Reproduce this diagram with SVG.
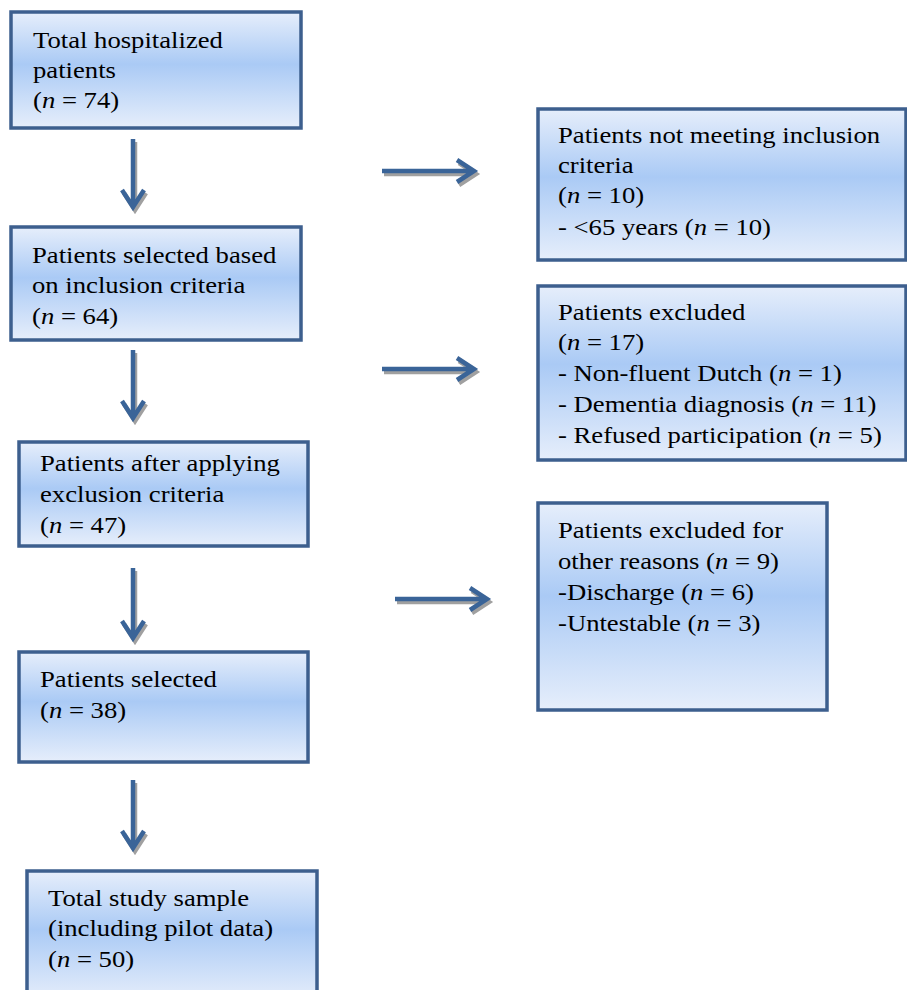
<svg xmlns="http://www.w3.org/2000/svg" width="907" height="990" viewBox="0 0 907 990">
<defs>
<linearGradient id="g" x1="0" y1="0" x2="0" y2="1">
<stop offset="0" stop-color="#e6eefb"/>
<stop offset="0.45" stop-color="#aacaf5"/>
<stop offset="1" stop-color="#e6eefb"/>
</linearGradient>
<style>
.box{fill:url(#g);stroke:#3d5f8e;stroke-width:3.5}
.t{font-family:'Liberation Serif','Times New Roman',Times,serif;font-size:23px;fill:#000}
.i{font-style:italic}
.sh{stroke:#a0a0a0;stroke-width:4.5;fill:none}
.ar{stroke:#3a6498;stroke-width:4.5;fill:none}
</style>
</defs>
<g id="connectors">
<g transform="translate(2,3)" class="sh">
<path d="M133 139V207M122 190L133 207L144 190"/>
<path d="M133 350V418M122 401L133 418L144 401"/>
<path d="M133 568V638M122 621L133 638L144 621"/>
<path d="M133 780V848M122 831L133 848L144 831"/>
<path d="M382 171H474M457 160L474 171L457 182"/>
<path d="M382 369H474M457 358L474 369L457 380"/>
<path d="M395 599H487M470 588L487 599L470 610"/>
</g>
<g class="ar">
<path d="M133 139V207M122 190L133 207L144 190"/>
<path d="M133 350V418M122 401L133 418L144 401"/>
<path d="M133 568V638M122 621L133 638L144 621"/>
<path d="M133 780V848M122 831L133 848L144 831"/>
<path d="M382 171H474M457 160L474 171L457 182"/>
<path d="M382 369H474M457 358L474 369L457 380"/>
<path d="M395 599H487M470 588L487 599L470 610"/>
</g>
</g>
<g class="t">
<g id="n1"><rect class="box" x="11" y="12" width="290" height="116"/>
<g transform="translate(33,0) scale(1.16,1)"><text x="0" y="48">Total hospitalized</text><text x="0" y="78">patients</text><text x="0" y="108">(<tspan class="i">n</tspan> = 74)</text></g></g>
<g id="n2"><rect class="box" x="11" y="227" width="290" height="113"/>
<g transform="translate(32,0) scale(1.16,1)"><text x="0" y="263">Patients selected based</text><text x="0" y="293">on inclusion criteria</text><text x="0" y="324">(<tspan class="i">n</tspan> = 64)</text></g></g>
<g id="n3"><rect class="box" x="19" y="442" width="289" height="104"/>
<g transform="translate(40,0) scale(1.16,1)"><text x="0" y="471">Patients after applying</text><text x="0" y="502">exclusion criteria</text><text x="0" y="533">(<tspan class="i">n</tspan> = 47)</text></g></g>
<g id="n4"><rect class="box" x="19" y="652" width="289" height="110"/>
<g transform="translate(40,0) scale(1.16,1)"><text x="0" y="687">Patients selected</text><text x="0" y="718">(<tspan class="i">n</tspan> = 38)</text></g></g>
<g id="n5"><rect class="box" x="27" y="871" width="290" height="130"/>
<g transform="translate(48,0) scale(1.16,1)"><text x="0" y="906">Total study sample</text><text x="0" y="936">(including pilot data)</text><text x="0" y="967">(<tspan class="i">n</tspan> = 50)</text></g></g>
<g id="a"><rect class="box" x="538" y="109" width="368" height="151"/>
<g transform="translate(558,0) scale(1.16,1)"><text x="0" y="143">Patients not meeting inclusion</text><text x="0" y="173">criteria</text><text x="0" y="203">(<tspan class="i">n</tspan> = 10)</text><text x="0" y="235">- &lt;65 years (<tspan class="i">n</tspan> = 10)</text></g></g>
<g id="b"><rect class="box" x="538" y="286" width="368" height="174"/>
<g transform="translate(558,0) scale(1.16,1)"><text x="0" y="320">Patients excluded</text><text x="0" y="350">(<tspan class="i">n</tspan> = 17)</text><text x="0" y="381">- Non-fluent Dutch (<tspan class="i">n</tspan> = 1)</text><text x="0" y="412">- Dementia diagnosis (<tspan class="i">n</tspan> = 11)</text><text x="0" y="443">- Refused participation (<tspan class="i">n</tspan> = 5)</text></g></g>
<g id="c"><rect class="box" x="538" y="503" width="289" height="207"/>
<g transform="translate(558,0) scale(1.16,1)"><text x="0" y="538">Patients excluded for</text><text x="0" y="569">other reasons (<tspan class="i">n</tspan> = 9)</text><text x="0" y="600">-Discharge (<tspan class="i">n</tspan> = 6)</text><text x="0" y="631">-Untestable (<tspan class="i">n</tspan> = 3)</text></g></g>
</g>
</svg>
